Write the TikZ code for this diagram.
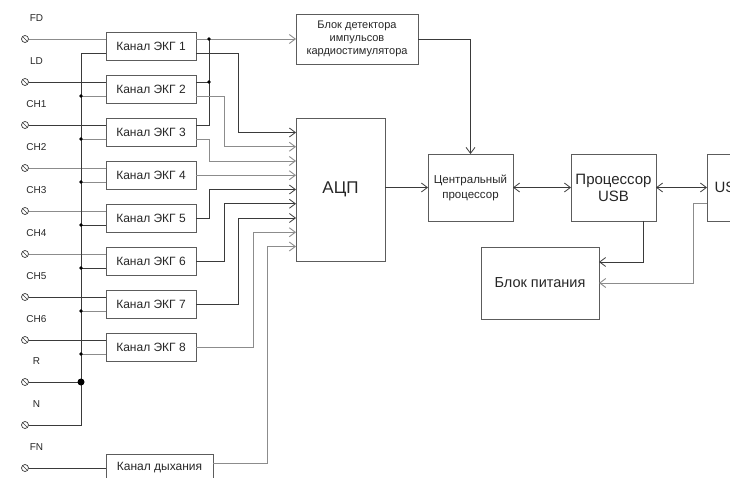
\documentclass[tikz,border=0pt]{standalone}
\usepackage{fontspec}
\setmainfont{Liberation Sans}
\usepackage{xcolor}
\usepackage{tikz}
\usetikzlibrary{positioning,calc,arrows.meta}

\definecolor{tyomn}{HTML}{3A3A3A}
\definecolor{svetl}{HTML}{8C8C8C}
\definecolor{ramka}{HTML}{5C5C5C}

\begin{document}
\begin{tikzpicture}[x=1pt, y=-1pt, node distance=15pt,
    >={Straight Barb[length=6pt,width=9pt]},
    blok/.style={draw=ramka, line width=0.9pt, inner sep=1pt, outer sep=0pt,
      align=center, text=black!85, font=\fontsize{12}{14}\selectfont},
    kanal/.style={blok, minimum width=90pt, minimum height=28pt},
    klemma/.style={circle, draw=tyomn, line width=0.7pt, minimum size=7pt,
      inner sep=0pt, outer sep=0pt,
      path picture={\draw[tyomn, line width=0.7pt] (path picture bounding box.north west)
        -- (path picture bounding box.south east);}},
    metka/.style={inner sep=0pt, text=black!85, font=\fontsize{10}{12}\selectfont},
    tmn/.style={draw=tyomn, line width=0.8pt},
    svt/.style={draw=svetl, line width=0.9pt}]

        \useasboundingbox (0,0) rectangle (730,478);
        \clip (0,0) rectangle (730,478);

        % ECG channels
        \node[kanal] (K1) at (151,46) {Канал ЭКГ 1};
        \node[kanal] (K2) [below=of K1] {Канал ЭКГ 2};
        \node[kanal] (K3) [below=of K2] {Канал ЭКГ 3};
        \node[kanal] (K4) [below=of K3] {Канал ЭКГ 4};
        \node[kanal] (K5) [below=of K4] {Канал ЭКГ 5};
        \node[kanal] (K6) [below=of K5] {Канал ЭКГ 6};
        \node[kanal] (K7) [below=of K6] {Канал ЭКГ 7};
        \node[kanal] (K8) [below=of K7] {Канал ЭКГ 8};
        \node[kanal, minimum width=107pt] (D) [below=93pt of K8.south west, anchor=north west] {Канал дыхания};

        % processing blocks
        \node[blok, minimum width=122pt, minimum height=50pt, font=\fontsize{11}{13}\selectfont]
          (P) at (357,39) {Блок детектора\\импульсов\\кардиостимулятора};
        \node[blok, minimum width=89pt, minimum height=143pt, font=\fontsize{17}{20}\selectfont]
          (A) at (340.5,189.5) {АЦП};
        \node[blok, minimum width=85pt, minimum height=67pt, font=\fontsize{11.5}{15}\selectfont]
          (C) at (470.5,187.5) {Центральный\\процессор};
        \node[blok, minimum width=85pt, minimum height=67pt, font=\fontsize{15}{17}\selectfont]
          (U) [right=58pt of C] {Процессор\\USB};
        \node[blok, minimum width=46pt, minimum height=67pt, font=\fontsize{15}{17}\selectfont]
          (B) [right=51pt of U] {USB};
        \node[blok, minimum width=118pt, minimum height=72pt, font=\fontsize{14.5}{17}\selectfont]
          (PS) at (540,283) {Блок питания};

        % terminals
        \foreach \nm/\yy in {FD/39,LD/82,CH1/125,CH2/168,CH3/211,CH4/254,CH5/297,CH6/340,R/382,N/425,FN/468} {
          \node[klemma] (t\nm) at (25,\yy) {};
          \node[metka] (m\nm) at (36.5,\yy-21) {\nm};
        }

        % columns and ADC inputs
        \coordinate (shina) at (81,0);
        \coordinate (c1) at (209,0);
        \coordinate (c2) at (224,0);
        \coordinate (c3) at (238,0);
        \coordinate (c4) at (253,0);
        \coordinate (c5) at (267,0);
        \coordinate (kol) at (693,0);
        \foreach \k in {1,...,9}
          \coordinate (a\k) at ($(A.west)+(0,{(\k-5)*14.25})$);

        % from terminals to channels
        \draw[svt] (tFD) -- (tFD -| K1.west);
        \draw[tmn] (tLD) -- (tLD -| K2.west);
        \draw[tmn] (tCH1) -- (tCH1 -| K3.west);
        \draw[svt] (tCH2) -- (tCH2 -| K4.west);
        \draw[svt] (tCH3) -- (tCH3 -| K5.west);
        \draw[svt] (tCH4) -- (tCH4 -| K6.west);
        \draw[tmn] (tCH5) -- (tCH5 -| K7.west);
        \draw[tmn] (tCH6) -- (tCH6 -| K8.west);
        \draw[tmn] (tFN) -- (tFN -| D.west);

        % common wire
        \draw[tmn] ($(K1.west)+(0,7)$) -| (shina |- tN) -- (tN);
        \draw[tmn] (tR) -- (shina |- tR);
        \fill[black] (shina |- tR) circle (3.5pt);
        \foreach \k/\st in {2/svt,3/svt,4/svt,5/tmn,6/tmn,7/svt,8/svt} {
          \coordinate (v\k) at ($(K\k.west)+(0,7)$);
          \draw[\st] (shina |- v\k) -- (v\k);
          \fill[black] (shina |- v\k) circle (1.8pt);
        }

        % to the pacemaker detector
        \draw[svt,->] (P.west -| K1.east) -- (P.west);
        \draw[tmn] ($(K2.east)+(0,-7)$) -| (c1 |- P.west);
        \draw[tmn] ($(K3.east)+(0,-7)$) -| (c1 |- P.west);
        \fill[black] (c1 |- P.west) circle (1.8pt);
        \fill[black] ($(K2.east -| c1)+(0,-7)$) circle (1.8pt);

        % from channels to ADC
        \draw[tmn,->] ($(K1.east)+(0,7)$) -| (c3 |- a1) -- (a1);
        \draw[svt,->] ($(K2.east)+(0,7)$) -| (c2 |- a2) -- (a2);
        \draw[svt,->] ($(K3.east)+(0,7)$) -| (c1 |- a3) -- (a3);
        \draw[svt,->] (K4.east |- a4) -- (a4);
        \draw[tmn,->] (K5.east) -| (c1 |- a5) -- (a5);
        \draw[tmn,->] (K6.east) -| (c2 |- a6) -- (a6);
        \draw[tmn,->] (K7.east) -| (c3 |- a7) -- (a7);
        \draw[svt,->] (K8.east) -| (c4 |- a8) -- (a8);
        \draw[svt,->] ($(D.east)+(0,-5)$) -| (c5 |- a9) -- (a9);

        % processors and power
        \draw[tmn,->] (P.east) -| (C.north);
        \draw[tmn,->] (A.east |- C.west) -- (C.west);
        \draw[tmn,<->] (C.east) -- (U.west);
        \draw[tmn,<->] (U.east) -- (B.west);
        \draw[tmn,->] ($(U.south)+(30,0)$) |- ($(PS.east)+(0,-21)$);
        \draw[svt,->] ($(B.west)+(0,15.5)$) -| (kol |- PS.east) -- (PS.east);
  \end{tikzpicture}
\end{document}
